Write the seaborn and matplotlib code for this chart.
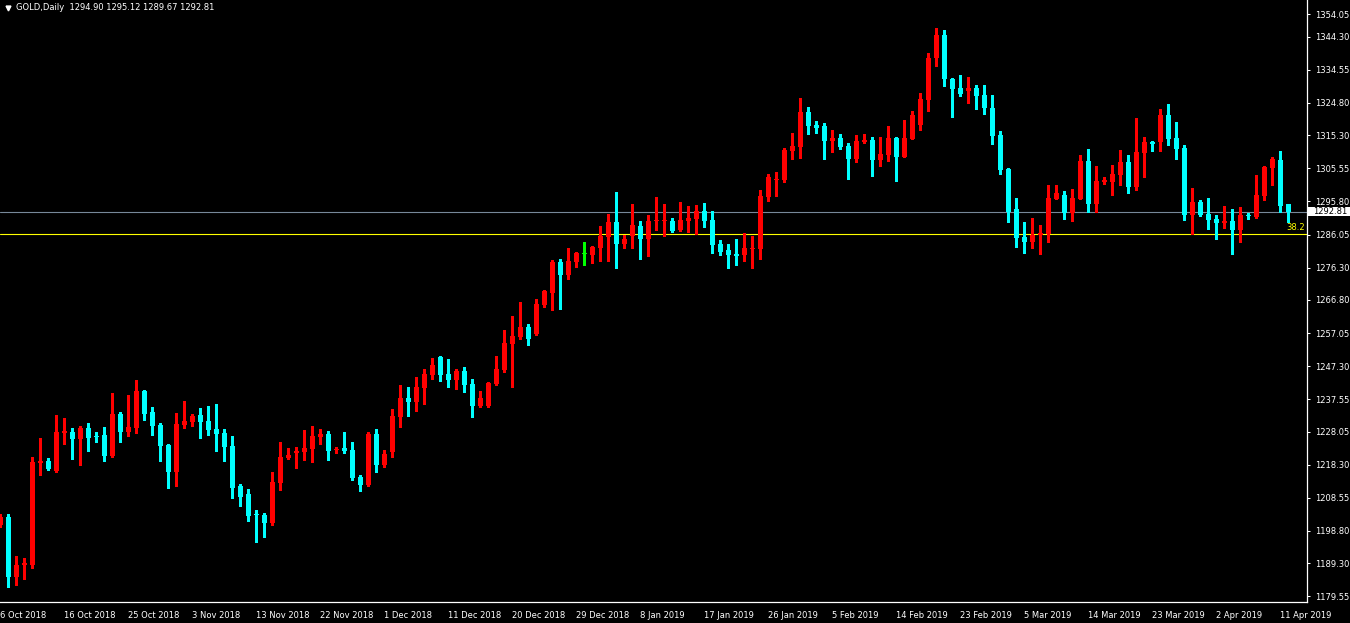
import numpy as np
import pandas as pd
import matplotlib
matplotlib.use('Agg')
import matplotlib.pyplot as plt
import matplotlib.transforms as mtransforms
from matplotlib.patches import Rectangle
import seaborn as sns

# GOLD daily candles, 6 Oct 2018 .. 12 Apr 2019
opens = [1200.6, 1203.0, 1185.1, 1188.7, 1188.8, 1218.9, 1219.4, 1216.5, 1227.7, 1228.0,
         1225.9, 1229.1, 1226.6, 1227.1, 1220.9, 1233.3, 1228.0, 1229.1, 1240.0, 1233.9,
         1230.0, 1224.2, 1216.2, 1230.0, 1230.9, 1233.0, 1231.2, 1228.9, 1227.7, 1223.9,
         1212.1, 1209.7, 1203.7, 1203.6, 1201.2, 1213.0, 1220.3, 1221.8, 1222.1, 1223.0,
         1226.5, 1227.4, 1222.6, 1223.3, 1222.7, 1214.7, 1212.4, 1227.4, 1218.2, 1222.1,
         1232.4, 1238.0, 1236.8, 1240.9, 1244.7, 1250.0, 1245.0, 1243.3, 1245.9, 1242.1,
         1235.6, 1235.6, 1242.1, 1246.2, 1253.9, 1255.9, 1258.9, 1256.8, 1265.3, 1268.9,
         1278.0, 1274.2, 1278.0, 1280.3, 1280.1, 1282.1, 1285.4, 1289.8, 1283.3, 1285.6,
         1288.6, 1284.8, 1289.9, 1289.9, 1290.1, 1287.4, 1290.1, 1290.6, 1293.0, 1290.4,
         1283.3, 1281.5, 1280.4, 1280.1, 1281.9, 1281.8, 1297.1, 1302.1, 1302.1, 1310.7,
         1311.8, 1322.1, 1318.3, 1318.0, 1313.6, 1314.5, 1312.1, 1308.3, 1313.3, 1313.9,
         1308.0, 1309.5, 1314.5, 1308.9, 1314.2, 1318.3, 1325.7, 1338.0, 1344.8, 1331.9,
         1329.2, 1328.3, 1329.2, 1327.1, 1323.3, 1315.4, 1305.4, 1293.6, 1285.3, 1283.9,
         1285.9, 1286.2, 1296.5, 1297.7, 1292.4, 1296.5, 1307.7, 1295.1, 1301.6, 1301.6,
         1303.6, 1307.4, 1300.1, 1310.1, 1313.3, 1313.3, 1321.3, 1314.5, 1311.6, 1291.8,
         1295.6, 1292.1, 1290.6, 1289.5, 1290.1, 1287.4, 1291.8, 1291.2, 1297.4, 1305.7,
         1308.0, 1294.90]
highs = [1203.8, 1203.8, 1191.5, 1190.9, 1220.5, 1226.2, 1220.3, 1233.0, 1232.1, 1229.0,
         1229.7, 1230.6, 1228.0, 1229.4, 1239.5, 1233.9, 1238.9, 1243.3, 1240.3, 1235.3,
         1230.6, 1224.4, 1233.6, 1237.1, 1233.3, 1235.0, 1235.6, 1236.2, 1228.9, 1226.8,
         1212.7, 1211.2, 1205.0, 1204.1, 1216.2, 1225.0, 1223.3, 1223.6, 1228.5, 1229.7,
         1228.9, 1228.3, 1223.6, 1228.0, 1225.0, 1215.3, 1228.0, 1228.9, 1222.7, 1234.7,
         1241.8, 1241.2, 1244.2, 1246.5, 1249.8, 1250.3, 1249.5, 1246.5, 1247.1, 1243.6,
         1240.0, 1242.7, 1250.3, 1258.0, 1262.1, 1266.2, 1259.7, 1267.1, 1269.8, 1278.6,
         1278.9, 1282.1, 1280.9, 1283.9, 1282.7, 1288.6, 1292.1, 1298.6, 1285.9, 1295.1,
         1290.1, 1291.8, 1297.1, 1295.1, 1290.9, 1295.7, 1294.5, 1294.8, 1295.4, 1293.0,
         1284.5, 1283.3, 1284.8, 1286.5, 1285.6, 1299.2, 1303.9, 1304.5, 1311.6, 1316.0,
         1326.3, 1323.6, 1319.5, 1318.9, 1316.8, 1315.7, 1313.0, 1315.4, 1315.7, 1314.8,
         1314.8, 1318.0, 1314.8, 1319.8, 1322.4, 1327.7, 1339.5, 1346.9, 1346.3, 1332.1,
         1333.0, 1332.4, 1330.1, 1330.1, 1327.1, 1316.6, 1305.7, 1296.8, 1289.8, 1290.9,
         1288.9, 1300.7, 1300.7, 1298.9, 1299.5, 1309.5, 1311.3, 1306.3, 1303.0, 1306.6,
         1311.0, 1309.5, 1320.4, 1314.8, 1313.6, 1323.0, 1324.5, 1319.2, 1312.4, 1299.8,
         1296.2, 1296.8, 1291.8, 1294.5, 1293.6, 1294.2, 1292.4, 1303.6, 1306.3, 1308.9,
         1310.7, 1295.12]
lows = [1199.9, 1182.4, 1182.8, 1184.7, 1188.0, 1215.3, 1216.8, 1216.2, 1224.4, 1220.0,
        1218.3, 1222.4, 1225.0, 1219.4, 1220.6, 1225.0, 1226.8, 1227.7, 1231.5, 1227.1,
        1219.4, 1211.5, 1212.1, 1229.1, 1229.7, 1226.2, 1227.1, 1222.4, 1219.4, 1208.6,
        1206.2, 1201.8, 1195.6, 1197.1, 1200.6, 1210.9, 1220.0, 1217.4, 1219.7, 1219.2,
        1224.4, 1219.7, 1221.8, 1221.8, 1213.9, 1210.6, 1212.1, 1216.2, 1217.7, 1220.6,
        1229.5, 1232.7, 1234.2, 1236.2, 1243.6, 1243.0, 1241.2, 1240.6, 1239.7, 1232.4,
        1235.3, 1235.3, 1241.8, 1245.6, 1241.2, 1255.3, 1253.6, 1256.5, 1264.7, 1263.9,
        1264.2, 1273.0, 1276.5, 1277.1, 1277.7, 1278.3, 1278.3, 1276.2, 1282.1, 1282.1,
        1278.9, 1279.8, 1287.4, 1285.6, 1286.8, 1287.1, 1286.8, 1286.2, 1288.3, 1280.6,
        1280.1, 1276.2, 1277.1, 1278.3, 1276.2, 1278.9, 1295.9, 1297.4, 1301.5, 1308.3,
        1308.6, 1315.7, 1316.0, 1308.3, 1310.4, 1311.3, 1302.4, 1307.4, 1313.0, 1303.3,
        1306.3, 1307.7, 1301.8, 1308.9, 1314.2, 1316.8, 1322.4, 1335.7, 1329.8, 1320.7,
        1326.9, 1324.8, 1323.0, 1321.5, 1312.7, 1303.9, 1289.8, 1282.4, 1280.6, 1282.1,
        1280.4, 1283.9, 1296.5, 1290.6, 1290.1, 1296.5, 1292.7, 1292.7, 1301.0, 1297.7,
        1300.7, 1298.3, 1299.2, 1303.0, 1310.7, 1310.7, 1312.4, 1308.3, 1290.4, 1286.2,
        1291.5, 1287.7, 1284.8, 1288.0, 1280.4, 1283.9, 1290.6, 1290.9, 1296.2, 1300.7,
        1292.7, 1289.67]
closes = [1203.0, 1185.1, 1188.8, 1189.2, 1219.1, 1219.5, 1217.1, 1228.0, 1228.1, 1225.9,
          1229.1, 1226.2, 1226.3, 1220.9, 1233.3, 1228.0, 1229.4, 1240.0, 1233.3, 1229.7,
          1223.9, 1216.2, 1230.3, 1231.2, 1232.7, 1230.9, 1228.6, 1227.4, 1223.6, 1211.5,
          1208.9, 1203.3, 1203.4, 1201.2, 1213.2, 1220.6, 1221.2, 1222.4, 1223.3, 1226.8,
          1227.4, 1222.4, 1222.8, 1222.4, 1214.4, 1212.4, 1227.4, 1218.2, 1221.5, 1232.7,
          1238.0, 1236.8, 1241.2, 1245.0, 1247.7, 1244.8, 1243.3, 1245.9, 1241.8, 1235.6,
          1238.0, 1242.4, 1246.5, 1254.2, 1256.2, 1258.9, 1255.3, 1265.6, 1269.5, 1278.0,
          1274.2, 1278.3, 1280.6, 1280.3, 1282.4, 1285.6, 1289.8, 1283.3, 1284.8, 1288.9,
          1284.8, 1290.1, 1290.1, 1290.1, 1287.1, 1290.4, 1290.9, 1293.0, 1290.1, 1283.0,
          1281.0, 1280.1, 1279.8, 1282.1, 1282.1, 1297.4, 1303.0, 1302.4, 1311.0, 1312.1,
          1322.1, 1318.0, 1317.4, 1313.6, 1314.5, 1311.8, 1308.3, 1313.6, 1313.9, 1308.0,
          1309.8, 1314.5, 1308.9, 1314.5, 1321.3, 1326.0, 1338.0, 1344.8, 1331.9, 1328.9,
          1327.4, 1329.2, 1326.9, 1323.3, 1315.1, 1305.1, 1292.7, 1285.1, 1283.9, 1285.9,
          1286.5, 1296.8, 1298.3, 1292.4, 1296.8, 1307.7, 1295.1, 1301.8, 1302.0, 1303.9,
          1307.4, 1300.1, 1310.4, 1313.3, 1312.7, 1321.3, 1314.2, 1311.3, 1291.8, 1295.6,
          1291.8, 1290.4, 1289.5, 1290.1, 1287.4, 1291.8, 1291.5, 1297.7, 1306.0, 1308.3,
          1294.5, 1292.81]

date_labels = ["6 Oct 2018", "16 Oct 2018", "25 Oct 2018", "3 Nov 2018", "13 Nov 2018",
               "22 Nov 2018", "1 Dec 2018", "11 Dec 2018", "20 Dec 2018", "29 Dec 2018",
               "8 Jan 2019", "17 Jan 2019", "26 Jan 2019", "5 Feb 2019", "14 Feb 2019",
               "23 Feb 2019", "5 Mar 2019", "14 Mar 2019", "23 Mar 2019", "2 Apr 2019",
               "11 Apr 2019"]
price_ticks = [1344.30, 1334.55, 1324.80, 1315.30, 1305.55, 1295.80, 1286.05, 1276.30,
               1266.80, 1257.05, 1247.30, 1237.55, 1228.05, 1218.30, 1208.55, 1198.80,
               1189.30, 1179.55]
TOP_LABEL = "1354.05"
TOP_LABEL_AT = 1350.85   # MT4 pushes the top label down so it is not cut off

BID = 1292.81
FIB_382 = 1286.34
TITLE = "GOLD,Daily  1294.90 1295.12 1289.67 1292.81"

BULL = '#FF0000'
BEAR = '#00FFFF'
DOJI = '#00FF00'
BID_COLOR = '#778899'
FIB_COLOR = '#FFFF00'
FS = 6.0

sns.set_style("dark", rc={'axes.facecolor': 'black', 'figure.facecolor': 'black',
                          'text.color': 'white', 'xtick.color': 'white',
                          'ytick.color': 'white', 'axes.edgecolor': 'white'})
plt.rcParams['font.family'] = ['DejaVu Sans']
plt.rcParams['font.size'] = FS

df = pd.DataFrame({'open': opens, 'high': highs, 'low': lows, 'close': closes})
df['bar'] = np.arange(len(df))
df['color'] = np.where(df['close'] > df['open'], BULL,
                       np.where(df['close'] < df['open'], BEAR, DOJI))
df['body_lo'] = df[['open', 'close']].min(axis=1)
df['body_h'] = (df['close'] - df['open']).abs().clip(lower=0.3)

W, H = 1350, 623
fig, ax = plt.subplots(figsize=(W / 100, H / 100), dpi=100)
fig.subplots_adjust(left=0, right=1307 / W, bottom=21 / H, top=1)

ax.vlines(df['bar'], df['low'], df['high'], colors=df['color'], linewidth=0.75,
          antialiased=False, zorder=3)
ax.bar(df['bar'], df['body_h'], bottom=df['body_lo'], width=0.62, color=df['color'],
       linewidth=0, antialiased=False, zorder=4)

ax.axhline(BID, color=BID_COLOR, linewidth=0.8, zorder=2)
ax.axhline(FIB_382, color=FIB_COLOR, linewidth=0.8, zorder=2)

ax.set_xlim(-0.0625, 163.35)
ax.set_ylim(1177.85, 1355.11)
ax.grid(False)

# x axis: date labels every 8 bars, text starts at the tick
ax.set_xticks(np.arange(0, 8 * len(date_labels), 8))
ax.set_xticklabels(date_labels, ha='left')
ax.tick_params(axis='x', direction='out', length=3.6, width=0.75, pad=2.8,
               colors='white', labelsize=FS)

# y axis on the right
ax.yaxis.tick_right()
ax.set_yticks([TOP_LABEL_AT] + price_ticks)
ax.set_yticklabels([TOP_LABEL] + [f'{p:.2f}' for p in price_ticks])
ax.tick_params(axis='y', direction='out', length=2.5, width=0.75, pad=3,
               colors='white', labelsize=FS)

for side in ('top', 'left'):
    ax.spines[side].set_visible(False)
for side in ('right', 'bottom'):
    ax.spines[side].set_color('white')
    ax.spines[side].set_linewidth(0.9)

# current price tag on the scale
trans = mtransforms.blended_transform_factory(ax.transAxes, ax.transData)
ax.add_patch(Rectangle((1.0005, BID - 1.25), 0.04, 2.5, transform=trans,
                       facecolor='white', edgecolor='none', clip_on=False, zorder=5))
ax.text(1.0046, BID, f'{BID:.2f}', transform=trans, ha='left', va='center',
        color='black', fontsize=FS, clip_on=False, zorder=6)

# fibonacci level label
ax.text(0.9985, FIB_382 + 0.6, '38.2', transform=trans, ha='right', va='bottom',
        color=FIB_COLOR, fontsize=FS)

# chart header
ax.plot([7.5 / 1307], [1 - 7.5 / 602], marker='v', markersize=3.5, color='white',
        transform=ax.transAxes, clip_on=False)
ax.text(16 / 1307, 1 - 7.5 / 602, TITLE, transform=ax.transAxes, ha='left',
        va='center', color='white', fontsize=FS)

fig.savefig('out.png', dpi=100, facecolor='black')
